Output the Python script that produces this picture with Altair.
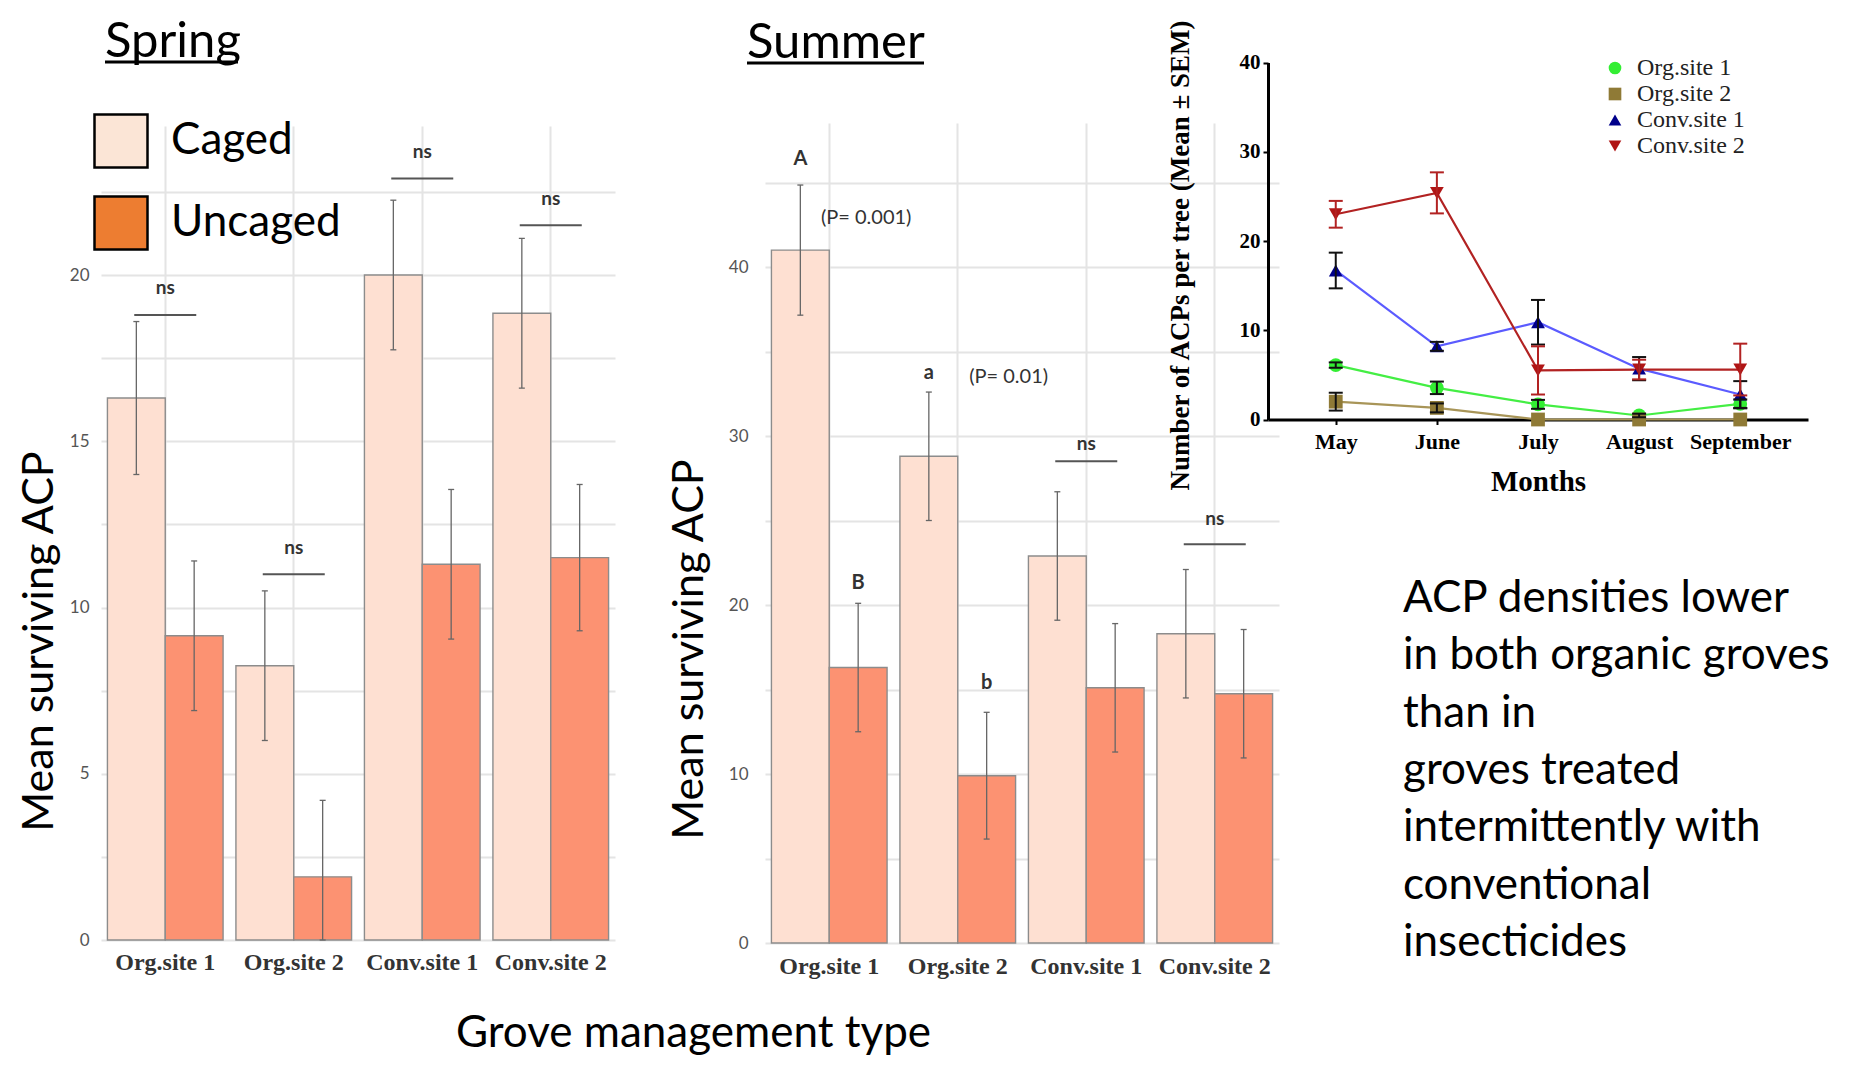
import altair as alt
import pandas as pd

# ------------------------------------------------------------------ data
sites = ["Org.site 1", "Org.site 2", "Conv.site 1", "Conv.site 2"]
treatments = ["Caged", "Uncaged"]

spring_caged = [16.3, 8.25, 20.0, 18.85]
spring_caged_se = [2.3, 2.25, 2.25, 2.25]
spring_uncaged = [9.15, 1.9, 11.3, 11.5]
spring_uncaged_se = [2.25, 2.3, 2.25, 2.2]

summer_caged = [41.0, 28.8, 22.9, 18.3]
summer_caged_se = [3.85, 3.8, 3.8, 3.8]
summer_uncaged = [16.3, 9.9, 15.1, 14.75]
summer_uncaged_se = [3.8, 3.75, 3.8, 3.8]

spring_sig_label = ["ns", "ns", "ns", "ns"]
spring_sig_bar = [18.8, 11.0, 22.9, 21.5]
spring_sig_text = [19.6, 11.8, 23.7, 22.3]

summer_sig_sites = ["Conv.site 1", "Conv.site 2"]
summer_sig_label = ["ns", "ns"]
summer_sig_bar = [28.5, 23.6]
summer_sig_text = [29.5, 25.1]

letter_sites = ["Org.site 1", "Org.site 1", "Org.site 2", "Org.site 2"]
letter_treats = ["Caged", "Uncaged", "Caged", "Uncaged"]
letter_labels = ["A", "B", "a", "b"]
letter_y = [46.4, 21.3, 33.7, 15.4]

pval_sites = ["Org.site 1", "Org.site 2"]
pval_labels = ["(P= 0.001)", "(P= 0.01)"]
pval_y = [42.9, 33.5]

months = ["May", "June", "July", "August", "September"]
org1 = [6.1, 3.55, 1.7, 0.45, 1.75]
org1_se = [0.3, 0.7, 0.5, 0.2, 0.5]
org2 = [2.0, 1.3, 0.0, 0.0, 0.0]
org2_se = [1.0, 0.5, 0.0, 0.0, 0.0]
conv1 = [16.7, 8.2, 10.9, 5.7, 2.8]
conv1_se = [2.0, 0.5, 2.5, 1.3, 1.5]
conv2 = [23.0, 25.4, 5.5, 5.6, 5.6]
conv2_se = [1.5, 2.3, 2.7, 1.1, 2.9]

note_lines = [
    "ACP densities lower",
    "in both organic groves",
    "than in",
    "groves treated",
    "intermittently with",
    "conventional",
    "insecticides",
]

# ------------------------------------------------------------------ styling / layout
MARGIN = 8
W, H = 1837, 1050


def px(v):
    return v - MARGIN


FONT = "Lato"
SERIF = "Liberation Serif"
GRID = "#e4e4e4"
BAR_FILL = ["#fee0d2", "#fc9272"]
LEGEND_FILL = ["#fbe5d6", "#ed7d31"]
LINE_COLORS = ["#44ee44", "#a89558", "#5b5bff", "#b22222"]
MARKER_COLORS = ["#33ee33", "#8f7a36", "#00008b", "#b01515"]
MARKER_SHAPES = ["circle", "square", "triangle-up", "triangle-down"]


def bar_frame(caged, caged_se, uncaged, uncaged_se):
    return pd.DataFrame({
        "site": sites * 2,
        "treat": [treatments[0]] * len(sites) + [treatments[1]] * len(sites),
        "mean": caged + uncaged,
        "se": caged_se + uncaged_se,
    })


def bar_units(df, x_rng, y0, ppu, ymax, grid_vals, label_step, ylab_pad, xlab_pad,
              ytitle_x, ytitle_y, sig_df, extra=(), xtitle_kw=None):
    """Return a flat list of unit charts forming one bar panel."""
    xs = alt.Scale(domain=sites, range=[px(x_rng[0]), px(x_rng[1])],
                   paddingInner=0.1, paddingOuter=0.05)
    xos = alt.Scale(type="band", domain=treatments, paddingInner=0, paddingOuter=0)
    xos_txt = alt.Scale(type="point", domain=treatments, padding=0.5)
    ys = alt.Scale(domain=[0, ymax], range=[px(y0), px(y0 - ymax * ppu)],
                   nice=False, zero=False)

    xkw = dict(orient="bottom", offset=px(y0) - H, grid=True, gridColor=GRID,
               gridWidth=2, bandPosition=0.5, domain=False, ticks=False,
               labelAngle=0, labelFont=SERIF, labelFontWeight="bold",
               labelFontSize=24, labelColor="#333333", labelPadding=xlab_pad)
    if xtitle_kw:
        xkw.update(xtitle_kw)
    else:
        xkw["title"] = None
    x_axis = alt.Axis(**xkw)
    y_axis = alt.Axis(
        orient="left", offset=-px(x_rng[0]), values=grid_vals,
        labelExpr=f"datum.value % {label_step} == 0 ? datum.label : ''",
        grid=True, gridColor=GRID, gridWidth=2, domain=False, ticks=False,
        labelFont=FONT, labelFontSize=17, labelColor="#555555", labelPadding=ylab_pad,
        title="Mean surviving ACP", titleFont=FONT, titleFontSize=43,
        titleFontWeight="normal", titleColor="black", titleAngle=270,
        titleAlign="center", titleBaseline="alphabetic",
        titleX=ytitle_x, titleY=px(ytitle_y),
    )

    X = alt.X("site:N", scale=xs, axis=None)
    XO = alt.XOffset("treat:N", scale=xos)
    XOT = alt.XOffset("treat:N", scale=xos_txt)

    base = alt.Chart(df).transform_calculate(
        lo="max(datum.mean - datum.se, 0)", hi="datum.mean + datum.se"
    )
    bars = base.mark_bar(stroke="#8c8c8c", strokeWidth=1.4).encode(
        x=alt.X("site:N", scale=xs, axis=x_axis),
        xOffset=XO,
        y=alt.Y("mean:Q", scale=ys, axis=y_axis),
        fill=alt.Fill("treat:N", scale=alt.Scale(domain=treatments, range=BAR_FILL),
                      legend=None),
    )
    err = base.mark_rule(color="#666666", strokeWidth=1.3).encode(
        x=X, xOffset=XO, y=alt.Y("lo:Q", scale=ys, axis=None), y2="hi:Q")
    cap_hi = base.mark_tick(size=6, thickness=1.3, color="#666666", opacity=1).encode(
        x=X, xOffset=XO, y=alt.Y("hi:Q", scale=ys, axis=None))
    cap_lo = base.mark_tick(size=6, thickness=1.3, color="#666666", opacity=1).encode(
        x=X, xOffset=XO, y=alt.Y("lo:Q", scale=ys, axis=None))

    sig_bar = alt.Chart(sig_df).mark_tick(size=62, thickness=2, color="#555555",
                                          opacity=1).encode(
        x=X, y=alt.Y("bar_y:Q", scale=ys, axis=None))
    sig_txt = alt.Chart(sig_df).mark_text(
        font=FONT, fontWeight="bold", fontSize=19, color="#333333", baseline="middle"
    ).encode(x=X, y=alt.Y("text_y:Q", scale=ys, axis=None), text="label:N")

    units = [bars, err, cap_hi, cap_lo, sig_bar, sig_txt]
    for fn in extra:
        units.append(fn(X, XOT, ys))
    return units


# ------------------------------------------------------------------ spring
spring_df = bar_frame(spring_caged, spring_caged_se, spring_uncaged, spring_uncaged_se)
spring_sig = pd.DataFrame({"site": sites, "label": spring_sig_label,
                           "bar_y": spring_sig_bar, "text_y": spring_sig_text})
spring_units = bar_units(
    spring_df, (101, 615), 940, 33.25, 23.5,
    [0, 2.5, 5, 7.5, 10, 12.5, 15, 17.5, 20, 22.5], 5, 12, 10,
    -49, 641, spring_sig,
    xtitle_kw=dict(title="Grove management type", titleFont=FONT, titleFontSize=44,
                   titleFontWeight="normal", titleColor="black", titleAlign="center",
                   titleBaseline="alphabetic", titleX=px(693), titleY=106),
)

# ------------------------------------------------------------------ summer
summer_df = bar_frame(summer_caged, summer_caged_se, summer_uncaged, summer_uncaged_se)
summer_sig = pd.DataFrame({"site": summer_sig_sites, "label": summer_sig_label,
                           "bar_y": summer_sig_bar, "text_y": summer_sig_text})
letters_df = pd.DataFrame({"site": letter_sites, "treat": letter_treats,
                           "label": letter_labels, "y": letter_y})
pval_df = pd.DataFrame({"site": pval_sites, "treat": ["Uncaged", "Uncaged"],
                        "label": pval_labels, "y": pval_y})


def letters_layer(X, XO, ys):
    return alt.Chart(letters_df).mark_text(
        font=FONT, fontWeight="bold", fontSize=20, color="#333333", baseline="middle"
    ).encode(x=X, xOffset=XO, y=alt.Y("y:Q", scale=ys, axis=None), text="label:N")


def pval1_layer(X, XO, ys):
    return alt.Chart(pval_df.iloc[[0]]).mark_text(
        font=FONT, fontSize=20, color="#333333", baseline="middle", dx=8
    ).encode(x=X, xOffset=XO, y=alt.Y("y:Q", scale=ys, axis=None), text="label:N")


def pval2_layer(X, XO, ys):
    return alt.Chart(pval_df.iloc[[1]]).mark_text(
        font=FONT, fontSize=20, color="#333333", baseline="middle", dx=22
    ).encode(x=X, xOffset=XO, y=alt.Y("y:Q", scale=ys, axis=None), text="label:N")


summer_units = bar_units(
    summer_df, (765, 1279), 943, 16.9, 47.5,
    [0, 5, 10, 15, 20, 25, 30, 35, 40, 45], 10, 17, 11,
    -63, 649, summer_sig,
    extra=(letters_layer, pval1_layer, pval2_layer),
)

# ------------------------------------------------------------------ line chart
series = {sites[0]: (org1, org1_se), sites[1]: (org2, org2_se),
          sites[2]: (conv1, conv1_se), sites[3]: (conv2, conv2_se)}
rows = []
for s, (vals, ses) in series.items():
    for i, (m, v, e) in enumerate(zip(months, vals, ses)):
        rows.append({"site": s, "month": m, "mi": i, "value": v, "se": e})
line_df = pd.DataFrame(rows)

lx = alt.Scale(type="point", domain=months, range=[px(1268), px(1808)], padding=0.67)
ly = alt.Scale(domain=[0, 40], range=[px(419.5), px(62.6)], nice=False, zero=False)

lx_axis = alt.Axis(
    orient="bottom", offset=px(419.5) - H, grid=False, domainColor="black",
    domainWidth=3, tickColor="black", tickWidth=2, tickSize=5, labelAngle=0,
    labelFont=SERIF, labelFontWeight="bold", labelFontSize=22, labelColor="black",
    labelPadding=7, title="Months", titleFont=SERIF, titleFontWeight="bold",
    titleFontSize=29, titleColor="black", titleBaseline="alphabetic", titleY=71,
)
ly_axis = alt.Axis(
    orient="left", offset=-px(1268), values=[0, 10, 20, 30, 40], grid=False,
    domainColor="black", domainWidth=3, tickColor="black", tickWidth=2, tickSize=5,
    labelFont=SERIF, labelFontWeight="bold", labelFontSize=21, labelColor="black",
    labelPadding=3, title="Number of ACPs per tree (Mean ± SEM)", titleFont=SERIF,
    titleFontWeight="bold", titleFontSize=27, titleColor="black", titleAngle=270,
    titleAlign="left", titleBaseline="alphabetic", titleX=1188 - 1268, titleY=px(490),
)
pt_legend = alt.Legend(
    orient="none", legendX=px(1603), legendY=px(56), title=None, symbolSize=160,
    labelFont=SERIF, labelFontSize=24, labelColor="#222222", labelOffset=10,
    rowPadding=2, padding=0, labelLimit=0, symbolOpacity=1,
)

LX = alt.X("month:N", scale=lx, axis=None)
LY = alt.Y("value:Q", scale=ly, axis=None)

lines = alt.Chart(line_df).mark_line(strokeWidth=2.2).encode(
    x=alt.X("month:N", scale=lx, axis=lx_axis),
    y=alt.Y("value:Q", scale=ly, axis=ly_axis),
    stroke=alt.Stroke("site:N", scale=alt.Scale(domain=sites, range=LINE_COLORS),
                      legend=None),
    order="mi:Q",
)
points = alt.Chart(line_df).mark_point(filled=True, size=190, opacity=1).encode(
    x=LX, y=LY,
    color=alt.Color("site:N", scale=alt.Scale(domain=sites, range=MARKER_COLORS),
                    legend=pt_legend),
    shape=alt.Shape("site:N", scale=alt.Scale(domain=sites, range=MARKER_SHAPES),
                    legend=pt_legend),
)


def line_errors(expr, color):
    b = alt.Chart(line_df).transform_filter(expr).transform_calculate(
        lo="datum.value - datum.se", hi="datum.value + datum.se")
    r = b.mark_rule(color=color, strokeWidth=2).encode(
        x=LX, y=alt.Y("lo:Q", scale=ly, axis=None), y2="hi:Q")
    t1 = b.mark_tick(size=14, thickness=2, color=color, opacity=1).encode(
        x=LX, y=alt.Y("hi:Q", scale=ly, axis=None))
    t2 = b.mark_tick(size=14, thickness=2, color=color, opacity=1).encode(
        x=LX, y=alt.Y("lo:Q", scale=ly, axis=None))
    return [r, t1, t2]


err_black = line_errors(f"datum.se > 0 && datum.site != '{sites[3]}'", "#111111")
err_red = line_errors(f"datum.se > 0 && datum.site == '{sites[3]}'", "#b22222")

line_units = [lines, points] + err_black + err_red

# ------------------------------------------------------------------ caged / uncaged legend
cage_legend = alt.Chart(pd.DataFrame({"treat": treatments})).transform_filter(
    "false"
).mark_square(filled=True, stroke="black", strokeWidth=2.5, opacity=1).encode(
    color=alt.Color(
        "treat:N", scale=alt.Scale(domain=treatments, range=LEGEND_FILL),
        legend=alt.Legend(
            orient="none", legendX=px(93), legendY=px(113), title=None,
            symbolType="square", symbolSize=2809, symbolStrokeColor="black",
            symbolStrokeWidth=2.5, symbolOpacity=1, labelFont=FONT, labelFontSize=44,
            labelColor="black", labelOffset=22, rowPadding=18, padding=0,
            labelLimit=0,
        ),
    )
)

# ------------------------------------------------------------------ free texts
one = pd.DataFrame({"k": [0]})


def title_text(label, x, y):
    return alt.Chart(pd.DataFrame({"t": [label]})).mark_text(
        font=FONT, fontSize=49, color="black", align="left", baseline="alphabetic"
    ).encode(text="t:N", x=alt.value(px(x)), y=alt.value(px(y)))


def underline(x1, x2, y):
    return alt.Chart(one).mark_rule(color="black", strokeWidth=3).encode(
        x=alt.value(px(x1)), x2=alt.value(px(x2)), y=alt.value(px(y)))


spring_title = title_text("Spring", 105, 57)
spring_ul = underline(105, 238, 62)
summer_title = title_text("Summer", 747, 58)
summer_ul = underline(747, 924, 63)

note = alt.Chart(pd.DataFrame({"t": ["\n".join(note_lines)]})).mark_text(
    font=FONT, fontSize=44, color="black", align="left", baseline="alphabetic",
    lineBreak="\n", lineHeight=57.3,
).encode(text="t:N", x=alt.value(px(1403)), y=alt.value(px(612)))

# ------------------------------------------------------------------ compose (flat layer)
chart = alt.layer(
    *spring_units, *summer_units, *line_units, cage_legend,
    spring_title, spring_ul, summer_title, summer_ul, note,
).resolve_scale(
    x="independent", y="independent", xOffset="independent",
    color="independent", fill="independent", stroke="independent",
    shape="independent",
).properties(
    width=W, height=H, autosize=alt.AutoSizeParams(type="none"), padding=0,
    background="white",
).configure_view(stroke=None)

chart.save("out.html", embed_options={"renderer": "svg", "actions": False})
